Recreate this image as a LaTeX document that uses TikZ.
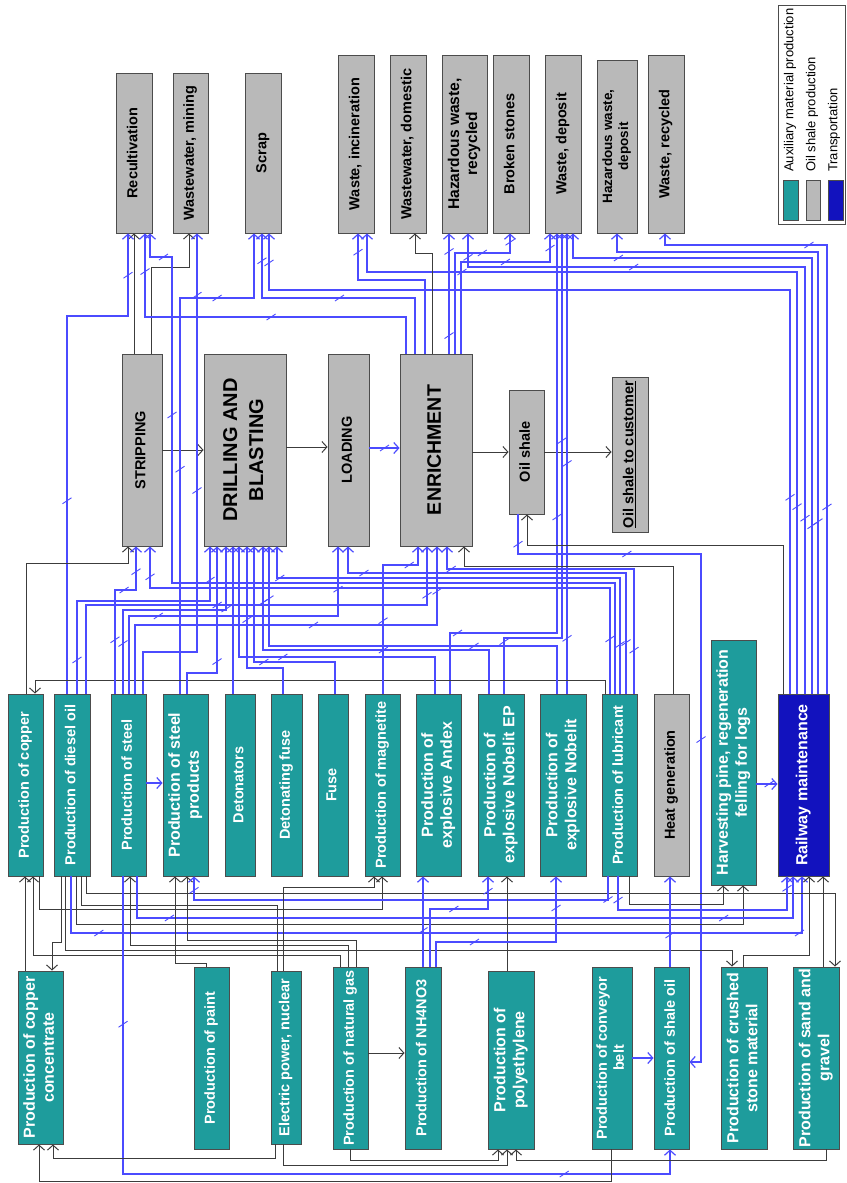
\documentclass[tikz,border=0pt]{standalone}
\usepackage{fontspec}
\setmainfont{Liberation Sans}
\usepackage{graphicx}
\usepackage{tikz}
\usetikzlibrary{arrows.meta, decorations.markings}

\definecolor{auxc}{RGB}{30,156,156}
\definecolor{oilc}{RGB}{185,185,185}
\definecolor{trnc}{RGB}{18,18,190}
\definecolor{wireblue}{RGB}{75,75,255}
\definecolor{wireblack}{RGB}{60,60,60}

% rotated (bottom-to-top) box text, lines split with \\
\newcommand{\rt}[1]{\rotatebox{90}{\begin{tabular}{@{}c@{}}#1\end{tabular}}}
% small slash on the blue transport lines
\newcommand{\tickmk}{\pgftransformresetnontranslations
  \draw[-, draw=wireblue, line width=0.9pt] (-4.5pt,-3pt) -- (4.5pt,3pt);}

\begin{document}
\begin{tikzpicture}[
    x=1pt, y=-1pt,
    >={Straight Barb[length=5pt, width=11pt]},
    box/.style={rectangle, draw=black!70, line width=0.9pt, inner sep=0pt,
      font=\bfseries\fontsize{14.5}{17}\selectfont},
    twoline/.style={font=\bfseries\fontsize{16}{19}\selectfont},
    aux/.style={box, fill=auxc, text=white},
    oil/.style={box, fill=oilc, text=black},
    trn/.style={box, fill=trnc, text=white},
    bw/.style={draw=wireblue, line width=1.2pt},
    kw/.style={draw=wireblack, line width=1pt},
    tk/.style={postaction={decorate, decoration={markings,
      mark=at position #1 with {\tickmk}}}},
    tk/.default=0.5,
]
    \useasboundingbox (0,0) rectangle (846,1183);

    % --- Outputs (top row) ---
    \node[oil, minimum width=36pt, minimum height=160pt] (recult) at (134,153) {\rt{Recultivation}};
    \node[oil, minimum width=35pt, minimum height=160pt] (wwmin)  at (190.5,153) {\rt{Wastewater, mining}};
    \node[oil, minimum width=36pt, minimum height=160pt] (scrap)  at (263,153) {\rt{Scrap}};
    \node[oil, minimum width=36pt, minimum height=178pt] (wincin) at (356,144) {\rt{Waste, incineration}};
    \node[oil, minimum width=36pt, minimum height=178pt] (wwdom)  at (408,144) {\rt{Wastewater, domestic}};
    \node[oil, font=\bfseries\fontsize{15.6}{18}\selectfont, minimum width=45pt, minimum height=178pt] (hazrec) at (464.5,144) {\rt{Hazardous waste,\\recycled}};
    \node[oil, minimum width=36pt, minimum height=178pt] (broken) at (511,144) {\rt{Broken stones}};
    \node[oil, minimum width=36pt, minimum height=178pt] (wdep)   at (563,144) {\rt{Waste, deposit}};
    \node[oil, font=\bfseries\fontsize{13.5}{16}\selectfont, minimum width=40pt, minimum height=173pt] (hazdep) at (617,146.5) {\rt{Hazardous waste,\\deposit}};
    \node[oil, minimum width=36pt, minimum height=178pt] (wrec)   at (666,144) {\rt{Waste, recycled}};

    % --- Legend ---
    \node[draw=black!70, line width=0.9pt, minimum width=67pt, minimum height=219pt, inner sep=0pt] (legend) at (811.5,114.5) {};
    \node[box, fill=auxc, minimum width=15pt, minimum height=40pt] (swaux) at (790.5,200) {};
    \node[box, fill=oilc, minimum width=14pt, minimum height=40pt] (swoil) at (813,200) {};
    \node[box, fill=trnc, minimum width=15pt, minimum height=40pt] (swtrn) at (835.5,200) {};
    \node[rotate=90, anchor=west, inner sep=0pt, font=\fontsize{13}{15}\selectfont] (lgaux) at (790,172) {Auxiliary material production};
    \node[rotate=90, anchor=west, inner sep=0pt, font=\fontsize{13}{15}\selectfont] (lgoil) at (812,172) {Oil shale production};
    \node[rotate=90, anchor=west, inner sep=0pt, font=\fontsize{13}{15}\selectfont] (lgtrn) at (834,172) {Transportation};

    % --- Oil shale production chain ---
    \node[oil, minimum width=40pt, minimum height=192pt] (strip)  at (142,450) {\rt{STRIPPING}};
    \node[oil, font=\bfseries\fontsize{20}{26}\selectfont, minimum width=82pt, minimum height=192pt] (drill) at (245,450) {\rt{DRILLING AND\\BLASTING}};
    \node[oil, minimum width=41pt, minimum height=192pt] (load)   at (348.5,450) {\rt{LOADING}};
    \node[oil, font=\bfseries\fontsize{19.5}{24}\selectfont, minimum width=72pt, minimum height=192pt] (enrich) at (436,450) {\rt{ENRICHMENT}};
    \node[oil, minimum width=35pt, minimum height=124pt] (oilsh)  at (526.5,452) {\rt{Oil shale}};
    \node[oil, minimum width=36pt, minimum height=155pt] (cust)   at (630,454.5) {\rt{\underline{Oil shale to customer}}};

    % --- Auxiliary production (middle row) ---
    \node[aux, minimum width=35pt, minimum height=182pt] (copper)  at (25.5,785) {\rt{Production of copper}};
    \node[aux, minimum width=36pt, minimum height=182pt] (diesel)  at (72,785) {\rt{Production of diesel oil}};
    \node[aux, minimum width=35pt, minimum height=182pt] (steel)   at (128.5,785) {\rt{Production of steel}};
    \node[aux, twoline, minimum width=45pt, minimum height=182pt] (steelp) at (185.5,785) {\rt{Production of steel\\products}};
    \node[aux, minimum width=30pt, minimum height=182pt] (deton)   at (240,785) {\rt{Detonators}};
    \node[aux, minimum width=31pt, minimum height=182pt] (detfuse) at (286.5,785) {\rt{Detonating fuse}};
    \node[aux, minimum width=30pt, minimum height=182pt] (fuse)    at (333,785) {\rt{Fuse}};
    \node[aux, minimum width=35pt, minimum height=182pt] (magn)    at (382.5,785) {\rt{Production of magnetite}};
    \node[aux, twoline, minimum width=45pt, minimum height=182pt] (andex) at (438.5,785) {\rt{Production of\\explosive Andex}};
    \node[aux, twoline, minimum width=46pt, minimum height=182pt] (nobep) at (501,785) {\rt{Production of\\explosive Nobelit EP}};
    \node[aux, twoline, minimum width=46pt, minimum height=182pt] (nobel) at (563,785) {\rt{Production of\\explosive Nobelit}};
    \node[aux, minimum width=35pt, minimum height=182pt] (lubr)    at (619.5,785) {\rt{Production of lubricant}};
    \node[oil, minimum width=35pt, minimum height=182pt] (heat)    at (671.5,785) {\rt{Heat generation}};
    \node[aux, twoline, minimum width=45pt, minimum height=245pt] (harv) at (733.5,762.5) {\rt{Harvesting pine, regeneration\\felling for logs}};
    \node[trn, twoline, minimum width=51pt, minimum height=182pt] (rail) at (803.5,785) {\rt{Railway maintenance}};

    % --- Auxiliary production (bottom row) ---
    \node[aux, twoline, minimum width=45pt, minimum height=173pt] (cconc) at (40.5,1057.5) {\rt{Production of copper\\concentrate}};
    \node[aux, minimum width=35pt, minimum height=182pt] (paint) at (211.5,1058) {\rt{Production of paint}};
    \node[aux, minimum width=30pt, minimum height=173pt] (elec)  at (286,1057.5) {\rt{Electric power, nuclear}};
    \node[aux, minimum width=35pt, minimum height=182pt] (ngas)  at (350.5,1058) {\rt{Production of natural gas}};
    \node[aux, minimum width=36pt, minimum height=182pt] (nh4)   at (423,1058) {\rt{Production of NH4NO3}};
    \node[aux, twoline, minimum width=46pt, minimum height=178pt] (poly) at (511,1060) {\rt{Production of\\polyethylene}};
    \node[aux, minimum width=40pt, minimum height=182pt] (conv)  at (612,1058) {\rt{Production of conveyor\\belt}};
    \node[aux, minimum width=35pt, minimum height=182pt] (shale) at (671.5,1058) {\rt{Production of shale oil}};
    \node[aux, twoline, minimum width=46pt, minimum height=182pt] (crush) at (744,1058) {\rt{Production of crushed\\stone material}};
    \node[aux, twoline, minimum width=46pt, minimum height=182pt] (sand)  at (816,1058) {\rt{Production of sand and\\gravel}};

    % --- Main chain ---
    \draw[kw,->] (strip.east) -- (drill.west);
    \draw[kw,->] (drill.east |- 0,447) -- (load.west |- 0,447);
    \draw[bw,->,tk=0.5] (load.east |- 0,448) -- (enrich.west |- 0,448);
    \draw[kw,->] (enrich.east |- oilsh.west) -- (oilsh.west);
    \draw[kw,->] (oilsh.east) -- (cust.west |- oilsh.east);

    % --- Flows to the output boxes ---
    \draw[kw,->] (134,0 |- strip.north) -- (134,0 |- recult.south);
    \draw[kw,->] (151,0 |- strip.north) |- (189,267) -- (189,0 |- wwmin.south);
    \draw[bw,->,tk=0.37,tk=0.92] (67,0 |- diesel.north) |- (128,316) -- (128,0 |- recult.south);
    \draw[bw,->,tk=0.45,tk=0.9] (406,0 |- enrich.north) |- (145,317) -- (145,0 |- recult.south);
    \draw[bw,->,tk=0.78,tk=0.96] (615,0 |- lubr.north) |- (172,583) |- (150,257) -- (150,0 |- recult.south);
    \draw[bw,->,tk=0.5,tk=0.88] (143,0 |- steel.north) |- (197,652) -- (197,0 |- wwmin.south);
    \draw[bw,->,tk=0.42,tk=0.81] (180,0 |- steelp.north) |- (254,298) -- (254,0 |- scrap.south);
    \draw[bw,->,tk=0.48,tk=0.9] (415,0 |- enrich.north) |- (262,298) -- (262,0 |- scrap.south);
    \draw[bw,->,tk=0.2,tk=0.97] (790,0 |- rail.north) |- (269,290) -- (269,0 |- scrap.south);
    \draw[bw,->,tk=0.21,tk=0.85] (797,0 |- rail.north) |- (367,272) -- (367,0 |- wincin.south);
    \draw[bw,->,tk=0.9] (425,0 |- enrich.north) |- (358,280) -- (358,0 |- wincin.south);
    \draw[kw,->] (432,0 |- enrich.north) |- (415,253) -- (415,0 |- wwdom.south);
    \draw[bw,->,tk=0.15,tk=0.85] (449,0 |- enrich.north) -- (449,0 |- hazrec.south);
    \draw[bw,->,tk=0.22,tk=0.75,tk=0.97] (805,0 |- rail.north) |- (468,267) -- (468,0 |- hazrec.south);
    \draw[bw,->,tk=0.73,tk=0.95] (455,0 |- enrich.north) |- (510,253) -- (510,0 |- broken.south);
    \draw[bw,->,tk=0.65,tk=0.93] (461,0 |- enrich.north) |- (550,262) -- (550,0 |- wdep.south);
    \draw[bw,->,tk=0.12,tk=0.5] (450,0 |- andex.north) |- (557,633) -- (557,0 |- wdep.south);
    \draw[bw,->,tk=0.1,tk=0.6] (504,0 |- nobep.north) |- (562,638) -- (562,0 |- wdep.south);
    \draw[bw,->,tk=0.12,tk=0.5] (567,0 |- nobel.north) -- (567,0 |- wdep.south);
    \draw[bw,->,tk=0.24,tk=0.9] (812,0 |- rail.north) |- (573,258) -- (573,0 |- wdep.south);
    \draw[bw,->,tk=0.26] (818,0 |- rail.north) |- (617,252) -- (617,0 |- hazdep.south);
    \draw[bw,->,tk=0.3,tk=0.75] (827,0 |- rail.north) |- (665,245) -- (665,0 |- wrec.south);

    % --- Inputs to stripping ---
    \draw[kw,->] (26,0 |- copper.north) |- (128,563) -- (128,0 |- strip.south);
    \draw[kw,->] (605,0 |- lubr.north) |- (35,680) -- (35,0 |- copper.north);
    \draw[bw,->,tk=0.32,tk=0.67,tk=0.85] (115,0 |- steel.north) |- (136,590) -- (136,0 |- strip.south);
    \draw[bw,->,tk=0.09,tk=0.95] (610,0 |- lubr.north) |- (150,588) -- (150,0 |- strip.south);

    % --- Inputs to drilling and blasting ---
    \draw[bw,->,tk=0.12,tk=0.88] (77,0 |- diesel.north) |- (210,601) -- (210,0 |- drill.south);
    \draw[bw,->,tk=0.35] (187,0 |- steelp.north) |- (217,673) -- (217,0 |- drill.south);
    \draw[bw,->,tk=0.2,tk=0.75] (123,0 |- steel.north) |- (226,610) -- (226,0 |- drill.south);
    \draw[bw,->] (233,0 |- deton.north) -- (233,0 |- drill.south);
    \draw[bw,->,tk=0.55] (435,0 |- andex.north) |- (239,657) -- (239,0 |- drill.south);
    \draw[bw,->,tk=0.6] (283,0 |- detfuse.north) |- (247,668) -- (247,0 |- drill.south);
    \draw[bw,->,tk=0.45] (335,0 |- fuse.north) |- (254,662) -- (254,0 |- drill.south);
    \draw[bw,->,tk=0.4,tk=0.85] (489,0 |- nobep.north) |- (263,650) -- (263,0 |- drill.south);
    \draw[bw,->,tk=0.3,tk=0.88] (557,0 |- nobel.north) |- (269,646) -- (269,0 |- drill.south);
    \draw[bw,->,tk=0.1,tk=0.93] (620,0 |- lubr.north) |- (277,578) -- (277,0 |- drill.south);

    % --- Inputs to loading and enrichment ---
    \draw[bw,->,tk=0.3,tk=0.88] (129,0 |- steel.north) |- (338,616) -- (338,0 |- load.south);
    \draw[bw,->,tk=0.12,tk=0.9] (626,0 |- lubr.north) |- (348,573) -- (348,0 |- load.south);
    \draw[bw,->,tk=0.4,tk=0.85] (383,0 |- magn.north) |- (418,565) -- (418,0 |- enrich.south);
    \draw[bw,->,tk=0.45,tk=0.9] (86,0 |- diesel.north) |- (427,605) -- (427,0 |- enrich.south);
    \draw[bw,->,tk=0.55,tk=0.9] (135,0 |- steel.north) |- (437,625) -- (437,0 |- enrich.south);
    \draw[bw,->,tk=0.13,tk=0.92] (634,0 |- lubr.north) |- (447,569) -- (447,0 |- enrich.south);
    \draw[kw,->] (673,0 |- heat.north) |- (464,566) -- (464,0 |- enrich.south);

    % --- Oil shale links ---
    \draw[kw,->] (783,0 |- rail.north) |- (527,545) -- (527,0 |- oilsh.south);
    \draw[bw,->,tk=0.04,tk=0.2,tk=0.55] (518,0 |- oilsh.south) |- (701,554) |- (shale.east |- 0,1062);

    % --- Lower links between the production rows ---
    \draw[kw,->] (25,0 |- cconc.north) -- (25,0 |- copper.south);
    \draw[kw,->] (340,0 |- ngas.north) |- (33,955) -- (33,0 |- copper.south);
    \draw[kw,->] (39,0 |- copper.south) |- (382,909) -- (382,0 |- magn.south);
    \draw[kw,->] (61,0 |- diesel.south) |- (52,942) -- (52,0 |- cconc.north);
    \draw[kw,->] (65,0 |- diesel.south) |- (732,950) -- (732,0 |- crush.north);
    \draw[bw,->,tk=0.1,tk=0.93] (71,0 |- diesel.south) |- (802,933) -- (802,0 |- rail.south);
    \draw[kw,->] (76,0 |- diesel.south) |- (743,924) -- (743,0 |- harv.south);
    \draw[kw] (81,0 |- diesel.south) |- (277,905) -- (277,0 |- elec.north);
    \draw[kw,->] (86,0 |- diesel.south) |- (835,893) -- (835,0 |- sand.north);
    \draw[bw,->,tk=0.17,tk=0.85] (123,0 |- steel.south) |- (670,1174) -- (670,0 |- shale.south);
    \draw[kw,->] (348,0 |- ngas.north) |- (130,945) -- (130,0 |- steel.south);
    \draw[bw,->,tk=0.1,tk=0.85] (137,0 |- steel.south) |- (793,918) -- (793,0 |- rail.south);
    \draw[bw,->] (steel.east |- 0,783) -- (steelp.west |- 0,783);
    \draw[kw,->] (206,0 |- paint.north) |- (175,963) -- (175,0 |- steelp.south);
    \draw[kw,->] (356,0 |- ngas.north) |- (187,940) -- (187,0 |- steelp.south);
    \draw[bw,->,tk=0.05,tk=0.97] (608,0 |- lubr.south) |- (194,900) -- (194,0 |- steelp.south);
    \draw[kw,->] (283,0 |- elec.north) |- (374,887) -- (374,0 |- magn.south);
    \draw[bw,->,tk=0.4] (423,0 |- nh4.north) -- (423,0 |- andex.south);
    \draw[bw,->,tk=0.55,tk=0.9] (430,0 |- nh4.north) |- (488,909) -- (488,0 |- nobep.south);
    \draw[kw,->] (507,0 |- poly.north) -- (507,0 |- nobep.south);
    \draw[bw,->,tk=0.3,tk=0.85] (436,0 |- nh4.north) |- (556,942) -- (556,0 |- nobel.south);
    \draw[bw,->,tk=0.1,tk=0.95] (618,0 |- lubr.south) |- (787,910) -- (787,0 |- rail.south);
    \draw[kw,->] (629,0 |- lubr.south) |- (723,904) -- (723,0 |- harv.south);
    \draw[bw,->,tk=0.35] (670,0 |- shale.north) -- (670,0 |- heat.south);
    \draw[kw,->] (743,0 |- crush.north) |- (809,955) -- (809,0 |- rail.south);
    \draw[kw,->] (823,0 |- sand.north) -- (823,0 |- rail.south);
    \draw[bw,->,tk=0.6] (harv.east |- 0,784) -- (rail.west |- 0,784);
    \draw[kw,->] (ngas.east |- 0,1053) -- (nh4.west |- 0,1053);
    \draw[bw,->] (conv.east |- 0,1058) -- (shale.west |- 0,1058);

    % --- Links under the bottom row ---
    \draw[kw,->] (275,0 |- elec.south) |- (53,1158) -- (53,0 |- cconc.south);
    \draw[kw,->] (611,0 |- conv.south) |- (39,1181) -- (39,0 |- cconc.south);
    \draw[kw,->] (283,0 |- elec.south) |- (507,1165) -- (507,0 |- poly.south);
    \draw[kw,->] (350,0 |- ngas.south) |- (498,1160) -- (498,0 |- poly.south);
    \draw[kw,->] (826,0 |- sand.south) |- (516,1160) -- (516,0 |- poly.south);
\end{tikzpicture}
\end{document}
